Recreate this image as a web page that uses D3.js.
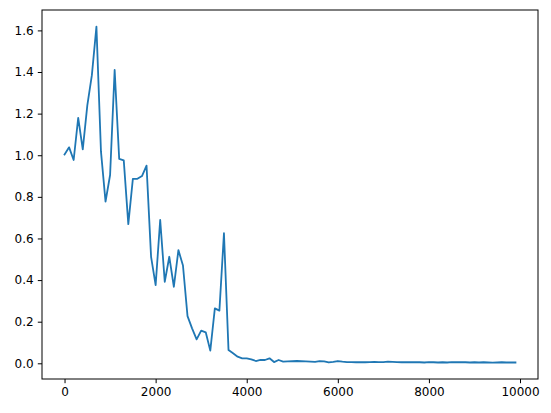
<!DOCTYPE html>
<html lang="en">
<head>
  <meta charset="UTF-8">
  <title>Line</title>
  <style>
  body { margin: 0; background: #fff; }
  .axis text { font-family: "DejaVu Sans", sans-serif; font-size: 12px; fill: #000; }
  .axis path, .axis line { stroke: #000; stroke-width: 1; }
  </style>
</head>
<body>
  <div id="chart"></div>
  <script src="https://cdn.jsdelivr.net/npm/d3@7"></script>
  <script type="text/javascript">
  // Series values, one every 100 steps starting at 0
  const stepSize = 100;
  const values = [
    1.004, 1.038, 0.977, 1.18, 1.028, 1.24, 1.385, 1.618, 1.017, 0.777,
    0.905, 1.41, 0.982, 0.975, 0.669, 0.886, 0.887, 0.9, 0.95, 0.512,
    0.376, 0.689, 0.392, 0.512, 0.368, 0.544, 0.47, 0.227, 0.168, 0.115,
    0.157, 0.149, 0.061, 0.264, 0.253, 0.625, 0.064, 0.048, 0.032, 0.024,
    0.024, 0.019, 0.011, 0.016, 0.016, 0.024, 0.006, 0.016, 0.008, 0.009,
    0.010, 0.011, 0.010, 0.009, 0.008, 0.007, 0.010, 0.009, 0.004, 0.007,
    0.011, 0.008, 0.006, 0.006, 0.005, 0.006, 0.005, 0.006, 0.007, 0.006,
    0.006, 0.008, 0.007, 0.006, 0.005, 0.006, 0.005, 0.006, 0.005, 0.004,
    0.006, 0.005, 0.004, 0.005, 0.004, 0.006, 0.005, 0.005, 0.005, 0.004,
    0.005, 0.004, 0.005, 0.004, 0.003, 0.004, 0.005, 0.004, 0.004, 0.004
  ];
  const xTicks = [0, 2000, 4000, 6000, 8000, 10000];
  const yTicks = [0, 0.2, 0.4, 0.6, 0.8, 1.0, 1.2, 1.4, 1.6];

  const width = 551, height = 413;
  const plot = { left: 42, right: 538, top: 10, bottom: 379 };

  const data = values.map((v, i) => ({ step: i * stepSize, value: v }));

  const x = d3.scaleLinear().domain([-495, 10395]).range([plot.left, plot.right]);
  const y = d3.scaleLinear().domain([-0.0754, 1.698]).range([plot.bottom, plot.top]);

  const svg = d3.select('#chart').append('svg')
    .attr('width', width).attr('height', height);

  svg.append('rect').attr('width', width).attr('height', height).attr('fill', '#fff');

  const line = d3.line().x(d => x(d.step)).y(d => y(d.value));

  svg.append('path')
    .datum(data)
    .attr('d', line)
    .attr('fill', 'none')
    .attr('stroke', '#1f77b4')
    .attr('stroke-width', 1.8)
    .attr('stroke-linejoin', 'round')
    .attr('stroke-linecap', 'square');

  // Axes
  svg.append('g')
    .attr('class', 'axis')
    .attr('transform', `translate(0,${plot.bottom})`)
    .call(d3.axisBottom(x).tickValues(xTicks).tickFormat(d3.format('d'))
      .tickSize(4.2).tickPadding(4.2).tickSizeOuter(0))
    .call(g => g.select('.domain').remove());

  svg.append('g')
    .attr('class', 'axis')
    .attr('transform', `translate(${plot.left},0)`)
    .call(d3.axisLeft(y).tickValues(yTicks).tickFormat(d3.format('.1f'))
      .tickSize(4.2).tickPadding(4.2).tickSizeOuter(0))
    .call(g => g.select('.domain').remove());

  // Frame (spines)
  svg.append('rect')
    .attr('x', plot.left).attr('y', plot.top)
    .attr('width', plot.right - plot.left).attr('height', plot.bottom - plot.top)
    .attr('fill', 'none').attr('stroke', '#000').attr('stroke-width', 1);
  </script>
</body>
</html>
